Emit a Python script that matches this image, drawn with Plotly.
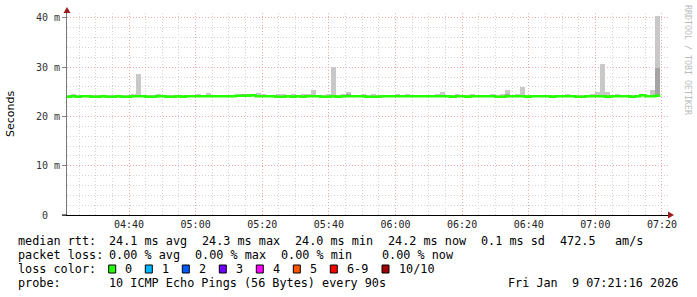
import pandas as pd
import plotly.graph_objects as go

# ---------------- data ----------------
bin_start_time = "2026-01-09 04:21:00"
bin_seconds = 90

median_rtt = [
    24.0, 24.1, 24.0, 24.1, 24.1, 24.0, 24.0, 24.1, 24.0, 24.0,
    24.1, 24.0, 24.0, 24.1, 24.1, 24.1, 24.0, 24.0, 24.1, 24.1,
    24.0, 24.0, 24.1, 24.0, 24.1, 24.1, 24.1, 24.1, 24.1, 24.1,
    24.1, 24.1, 24.1, 24.1, 24.2, 24.2, 24.2, 24.3, 24.1, 24.1,
    24.1, 24.1, 24.0, 24.0, 24.1, 24.0, 24.1, 24.0, 24.1, 24.1,
    24.1, 24.0, 24.0, 24.1, 24.0, 24.1, 24.1, 24.1, 24.1, 24.1,
    24.0, 24.0, 24.0, 24.1, 24.1, 24.1, 24.1, 24.1, 24.1, 24.1,
    24.1, 24.1, 24.1, 24.1, 24.1, 24.1, 24.1, 24.0, 24.1, 24.1,
    24.0, 24.1, 24.1, 24.1, 24.1, 24.1, 24.0, 24.0, 24.1, 24.1,
    24.1, 24.1, 24.0, 24.1, 24.1, 24.1, 24.1, 24.0, 24.1, 24.1,
    24.1, 24.1, 24.0, 24.0, 24.1, 24.1, 24.1, 24.1, 24.0, 24.1,
    24.1, 24.1, 24.1, 24.0, 24.1, 24.3, 24.1, 24.1, 24.2,
]

smoke_max = [
    24.3, 24.5, 24.3, 24.3, 24.3, 24.3, 24.3, 24.3, 24.3, 24.3,
    24.3, 24.3, 24.3, 24.5, 28.7, 24.3, 24.3, 24.3, 24.5, 24.3,
    24.3, 24.3, 24.3, 24.3, 24.3, 24.3, 24.5, 24.3, 24.8, 24.3,
    24.3, 24.3, 24.3, 24.3, 24.5, 24.6, 24.6, 24.5, 24.8, 24.5,
    24.3, 24.3, 24.5, 24.5, 24.3, 24.5, 24.3, 24.5, 24.5, 25.4,
    24.3, 24.3, 24.6, 30.1, 24.3, 24.5, 25.0, 24.3, 24.3, 24.5,
    24.3, 24.5, 24.3, 24.3, 24.3, 24.3, 24.5, 24.3, 24.5, 24.3,
    24.3, 24.3, 24.3, 24.3, 24.5, 24.9, 24.3, 24.3, 24.6, 24.3,
    24.3, 24.6, 24.3, 24.3, 24.3, 24.6, 24.3, 24.5, 25.4, 24.3,
    24.5, 25.9, 24.3, 24.3, 24.3, 24.3, 24.3, 24.3, 24.3, 24.3,
    24.5, 24.3, 24.3, 24.3, 24.3, 24.5, 25.0, 30.7, 25.0, 24.3,
    24.5, 24.3, 24.3, 24.3, 24.3, 24.3, 24.3, 25.4, 40.4,
]

smoke_inner = [
    24.0, 24.1, 24.0, 24.1, 24.1, 24.0, 24.0, 24.1, 24.0, 24.0,
    24.1, 24.0, 24.0, 24.1, 24.1, 24.1, 24.0, 24.0, 24.1, 24.1,
    24.0, 24.0, 24.1, 24.0, 24.1, 24.1, 24.1, 24.1, 24.4, 24.1,
    24.1, 24.1, 24.1, 24.1, 24.2, 24.4, 24.4, 24.3, 24.1, 24.1,
    24.1, 24.1, 24.0, 24.0, 24.1, 24.0, 24.1, 24.0, 24.1, 24.1,
    24.1, 24.0, 24.0, 24.1, 24.0, 24.1, 24.6, 24.1, 24.1, 24.1,
    24.0, 24.0, 24.0, 24.1, 24.1, 24.1, 24.1, 24.1, 24.1, 24.1,
    24.1, 24.1, 24.1, 24.1, 24.1, 24.1, 24.1, 24.0, 24.1, 24.1,
    24.0, 24.1, 24.1, 24.1, 24.1, 24.1, 24.0, 24.0, 24.5, 24.1,
    24.1, 24.1, 24.0, 24.1, 24.1, 24.1, 24.1, 24.0, 24.1, 24.1,
    24.1, 24.1, 24.0, 24.0, 24.1, 24.1, 24.1, 24.1, 24.0, 24.1,
    24.1, 24.1, 24.1, 24.0, 24.1, 24.3, 24.1, 24.1, 29.9,
]

x_tick_times = ["04:40", "05:00", "05:20", "05:40", "06:00", "06:20",
                "06:40", "07:00", "07:20"]
y_tick_vals = [0, 10, 20, 30, 40]
y_tick_text = ["0\u00a0\u00a0", "10 m", "20 m", "30 m", "40 m"]

loss_labels = ["0", "1", "2", "3", "4", "5", "6-9", "10/10"]
loss_colors = ["#26ff00", "#00b8ff", "#0059ff", "#7000ff", "#ff00ff",
               "#ff5500", "#ff0000", "#a00000"]

legend_rtt = ["median rtt:", "24.1 ms avg", "24.3 ms max", "24.0 ms min",
              "24.2 ms now", "0.1 ms sd", "472.5", "am/s"]
legend_loss = ["packet loss:", "0.00 % avg", "0.00 % max", "0.00 % min",
               "0.00 % now"]
probe_text = ["probe:", "10 ICMP Echo Pings (56 Bytes) every 90s"]
date_text = "Fri Jan\u00a0\u00a09 07:21:16 2026"

# ---------------- geometry helpers ----------------
W, H = 697, 297
L, R, T, B = 67, 668, 13, 215


def PX(px):
    return (px - L) / (R - L)


def PY(py):
    return (B - py) / (B - T)


starts = pd.date_range(bin_start_time, periods=len(median_rtt), freq=f"{bin_seconds}s")
centers = starts + pd.Timedelta(seconds=bin_seconds / 2)
step_x = list(starts) + [starts[-1] + pd.Timedelta(seconds=bin_seconds)]
step_y = list(median_rtt) + [median_rtt[-1]]

light_h = [max(a - m, 0) for a, m in zip(smoke_max, median_rtt)]
dark_h = [max(a - m, 0) for a, m in zip(smoke_inner, median_rtt)]

fig = go.Figure()
fig.add_trace(go.Bar(x=centers, y=light_h, base=median_rtt, width=bin_seconds * 1000,
                     marker=dict(color="#c8c8c8", line=dict(width=0)), hoverinfo="skip"))
fig.add_trace(go.Bar(x=centers, y=dark_h, base=median_rtt, width=bin_seconds * 1000,
                     marker=dict(color="#a4a4a4", line=dict(width=0)), hoverinfo="skip"))
fig.add_trace(go.Scatter(x=step_x, y=step_y, mode="lines",
                         line=dict(color="#26ff00", width=2.6, shape="hv"), hoverinfo="skip"))

x0 = pd.Timestamp("2026-01-09 04:21:23")
x1 = x0 + pd.Timedelta(minutes=(R - L) / 3.331)
tickvals = [pd.Timestamp("2026-01-09 " + t) for t in x_tick_times]

mono = "DejaVu Sans Mono"
fig.update_layout(
    width=W, height=H, showlegend=False, barmode="overlay", bargap=0,
    margin=dict(l=L, r=W - R, t=T, b=H - B, pad=0),
    paper_bgcolor="white", plot_bgcolor="white",
    xaxis=dict(
        type="date", range=[x0, x1], tickvals=tickvals, ticktext=x_tick_times,
        showgrid=True, gridcolor="#f0a8a8", griddash="1px,2px", gridwidth=1,
        minor=dict(dtick=300000, tick0="2026-01-09 04:25:00", showgrid=True,
                   gridcolor="#d4d4d4", griddash="1px,2px", ticks=""),
        showline=True, linecolor="#000000", linewidth=1,
        ticks="", tickfont=dict(family=mono, size=10, color="#222"),
        zeroline=False, fixedrange=True,
    ),
    yaxis=dict(
        range=[0, 41], tickvals=y_tick_vals, ticktext=y_tick_text,
        showgrid=True, gridcolor="#f0a8a8", griddash="1px,2px", gridwidth=1,
        minor=dict(dtick=2, tick0=0, showgrid=True, gridcolor="#d4d4d4",
                   griddash="1px,2px", ticks=""),
        showline=True, linecolor="#777777", linewidth=1,
        ticks="outside", ticklen=4, tickcolor="#888888",
        tickfont=dict(family=mono, size=10, color="#333"),
        zeroline=False, fixedrange=True,
    ),
)

anns = []
anns.append(dict(text="Seconds", x=PX(10), y=PY(114), textangle=-90, showarrow=False,
                 xref="paper", yref="paper", xanchor="center", yanchor="middle",
                 font=dict(family="DejaVu Sans", size=11, color="#000")))
anns.append(dict(text="RRDTOOL / TOBI OETIKER", x=PX(688), y=PY(60), textangle=90,
                 showarrow=False, xref="paper", yref="paper", xanchor="center",
                 yanchor="middle", font=dict(family=mono, size=8.3, color="#bbbbbb")))

rtt_x = [16, 107, 200, 293, 386, 479, 558, 613]
loss_x = [16, 107, 193, 279, 380]
probe_x = [16, 107]
rows = [(legend_rtt, rtt_x, 241.5), (legend_loss, loss_x, 255), (probe_text, probe_x, 283)]
lfont = dict(family=mono, size=11.8, color="#000")
for texts, xs, yy in rows:
    for t, xx in zip(texts, xs):
        anns.append(dict(text=t.replace(" ", "\u00a0"), x=PX(xx), y=PY(yy), showarrow=False,
                         xref="paper", yref="paper", xanchor="left", yanchor="middle",
                         font=lfont))
anns.append(dict(text="loss\u00a0color:", x=PX(16), y=PY(269), showarrow=False,
                 xref="paper", yref="paper", xanchor="left", yanchor="middle", font=lfont))
anns.append(dict(text=date_text.replace(" ", "\u00a0"), x=PX(680), y=PY(283), showarrow=False,
                 xref="paper", yref="paper", xanchor="right", yanchor="middle", font=lfont))

box_x = [108.7, 145.3, 182.3, 219.3, 256.3, 293.3, 330.3, 382]
lab_x = [122.7, 160, 197, 234, 271, 308, 345, 396.7]
shapes = []
for lab, col, bx, lx in zip(loss_labels, loss_colors, box_x, lab_x):
    shapes.append(dict(type="rect", xref="paper", yref="paper",
                       x0=PX(bx), x1=PX(bx + 7), y0=PY(273), y1=PY(265),
                       fillcolor=col, line=dict(color="#000", width=1)))
    anns.append(dict(text=lab, x=PX(lx), y=PY(269), showarrow=False,
                     xref="paper", yref="paper", xanchor="left", yanchor="middle",
                     font=lfont))

# axis arrows and extensions
shapes.append(dict(type="path", xref="paper", yref="paper",
                   path=f"M {PX(67)} {PY(7)} L {PX(63.5)} {PY(13)} L {PX(70.5)} {PY(13)} Z",
                   fillcolor="#9b1c1c", line=dict(width=0)))
shapes.append(dict(type="path", xref="paper", yref="paper",
                   path=f"M {PX(674)} {PY(215)} L {PX(668)} {PY(211.5)} L {PX(668)} {PY(218.5)} Z",
                   fillcolor="#9b1c1c", line=dict(width=0)))
shapes.append(dict(type="line", xref="paper", yref="paper",
                   x0=PX(62), x1=PX(67), y0=PY(215), y1=PY(215),
                   line=dict(color="#000", width=1)))

fig.update_layout(annotations=anns, shapes=shapes)
fig.write_html("out.html")
